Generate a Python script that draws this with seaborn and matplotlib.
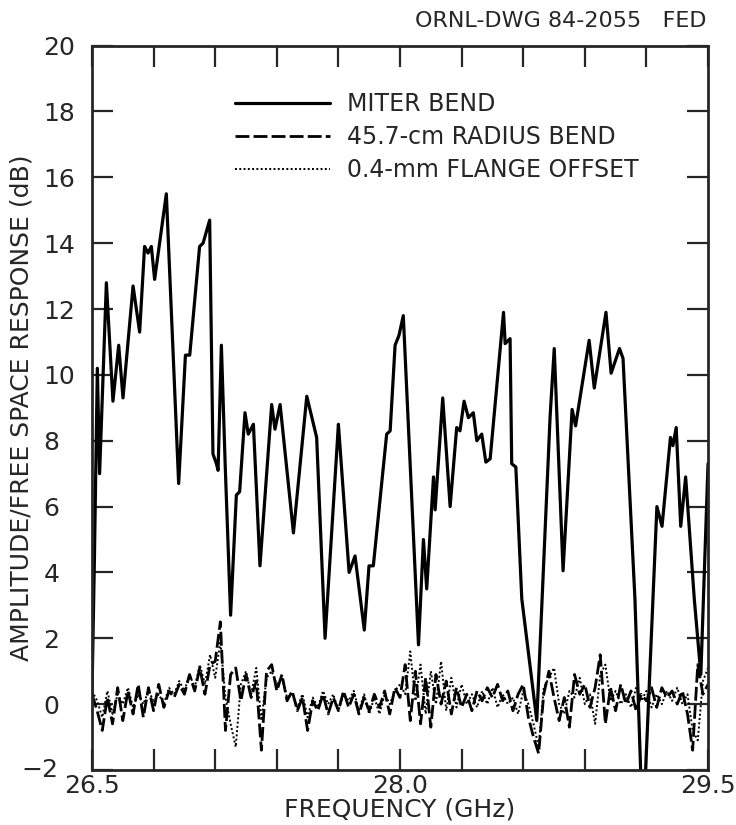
import numpy as np
import pandas as pd
import matplotlib
matplotlib.use('Agg')
import matplotlib.pyplot as plt
import seaborn as sns

# miter bend trace (GHz, dB)
miter_f = [26.500, 26.512, 26.526, 26.537, 26.570, 26.602, 26.630, 26.651, 26.700, 26.732,
           26.756, 26.773, 26.789, 26.805, 26.862, 26.922, 26.955, 26.976, 27.024, 27.041,
           27.073, 27.089, 27.106, 27.114, 27.130, 27.149, 27.175, 27.203, 27.219, 27.245,
           27.261, 27.286, 27.318, 27.375, 27.391, 27.416, 27.481, 27.546, 27.594, 27.635,
           27.700, 27.708, 27.752, 27.781, 27.826, 27.849, 27.870, 27.935, 27.952, 27.976,
           27.995, 28.016, 28.090, 28.114, 28.130, 28.163, 28.171, 28.208, 28.244, 28.276,
           28.292, 28.312, 28.333, 28.357, 28.374, 28.398, 28.418, 28.439, 28.504, 28.512,
           28.536, 28.544, 28.564, 28.593, 28.666, 28.731, 28.751, 28.794, 28.838, 28.855,
           28.921, 28.946, 29.003, 29.028, 29.069, 29.086, 29.144, 29.175, 29.192, 29.251,
           29.276, 29.317, 29.329, 29.345, 29.367, 29.391, 29.433, 29.465, 29.500]
miter_db = [0.3, 4.5, 10.2, 7.0, 12.8, 9.2, 10.9, 9.3, 12.7, 11.3,
            13.9, 13.7, 13.9, 12.9, 15.5, 6.7, 10.6, 10.6, 13.9, 14.0,
            14.7, 7.6, 7.3, 7.1, 10.9, 7.2, 2.7, 6.35, 6.45, 8.85,
            8.2, 8.5, 4.2, 9.1, 8.35, 9.1, 5.2, 9.35, 8.1, 2.0,
            8.5, 7.8, 4.0, 4.5, 2.25, 4.2, 4.2, 8.2, 8.3, 10.9,
            11.2, 11.8, 1.8, 5.0, 3.5, 6.9, 5.9, 9.3, 6.0, 8.4,
            8.3, 9.2, 8.7, 8.85, 8.0, 8.2, 7.35, 7.45, 11.9, 10.95,
            11.1, 7.3, 7.2, 3.2, -0.5, 8.75, 10.8, 4.05, 8.95, 8.45,
            11.05, 9.6, 11.9, 10.05, 10.8, 10.5, 3.2, -2.6, -2.6, 6.0,
            5.4, 8.1, 7.85, 8.4, 5.4, 6.9, 3.2, 0.9, 7.3]

# sweep used for the two low-level traces, 0.025 GHz steps
sweep_f = np.linspace(26.5, 29.5, 121)

radius_db = [0.3, -0.2, -0.8, 0.2, -0.6, 0.5, -0.5, 0.4, -0.3, 0.6,
             -0.4, 0.5, -0.2, 0.6, -0.1, 0.4, 0.2, 0.6, 0.3, 0.9,
             0.4, 1.1, 0.3, 1.2, 1.3, 2.5, -0.8, 0.9, 1.1, 0.1,
             0.9, 0.2, 0.7, -1.4, 1.0, 1.2, 0.4, 0.9, 0.1, 0.4,
             -0.2, 0.2, -0.8, 0.1, -0.2, 0.3, -0.3, 0.2, -0.2, 0.4,
             -0.1, 0.3, -0.3, 0.2, -0.2, 0.3, -0.1, 0.4, -0.3, 0.5,
             0.2, 1.2, -0.5, 1.0, -0.6, 0.8, -0.7, 0.9, 0.0, 0.7,
             -0.3, 0.5, -0.1, 0.3, -0.2, 0.4, 0.1, 0.5, 0.2, 0.6,
             0.1, 0.4, -0.2, 0.3, 0.6, -0.4, -1.0, -1.5, 0.3, 1.0,
             0.2, -0.5, 0.2, -0.7, 0.9, 0.3, 0.6, -0.1, 0.5, 1.5,
             -0.6, 0.5, -0.2, 0.6, 0.0, 0.4, -0.2, 0.3, 0.1, 0.5,
             -0.1, 0.5, 0.2, 0.4, 0.0, 0.4, -0.3, -1.4, 1.2, 0.3,
             0.6]

flange_db = [0.4, 0.1, -0.4, 0.4, -0.3, 0.3, 0.0, 0.5, -0.1, 0.3,
             0.0, 0.4, 0.1, 0.3, 0.0, 0.5, 0.3, 0.7, 0.4, 0.9,
             0.5, 1.2, 0.6, 1.5, 0.8, 1.9, 0.2, -0.6, -1.3, 0.6,
             1.0, 0.3, 1.1, -0.5, 0.8, 1.0, 0.6, 0.8, 0.2, 0.3,
             -0.1, 0.3, -0.4, 0.2, -0.1, 0.4, 0.0, 0.3, -0.2, 0.3,
             0.1, 0.4, -0.2, 0.3, -0.3, 0.2, -0.3, 0.3, 0.0, 0.4,
             0.6, 0.3, 1.6, 0.1, 1.2, -0.3, 1.0, 0.0, 1.3, -0.2,
             0.8, -0.1, 0.6, 0.0, 0.3, -0.1, 0.4, 0.0, 0.5, -0.1,
             0.3, 0.0, 0.2, -0.3, 0.4, 0.0, -0.6, -1.3, 0.5, 0.8,
             1.1, 0.0, -0.3, 0.4, 0.2, 0.8, 0.0, 0.3, -0.6, 0.9,
             1.2, 0.1, 0.4, 0.0, 0.3, -0.1, 0.5, 0.1, 0.4, -0.1,
             0.3, 0.0, 0.4, 0.1, 0.5, 0.0, 0.3, -0.8, -1.1, 0.7,
             1.1]

x_ticks = [26.5, 26.8, 27.1, 27.4, 27.7, 28.0, 28.3, 28.6, 28.9, 29.2, 29.5]
x_labels = ['26.5', '', '', '', '', '28.0', '', '', '', '', '29.5']
y_ticks = [-2, 0, 2, 4, 6, 8, 10, 12, 14, 16, 18, 20]
y_labels = ['', '0', '2', '4', '6', '8', '10', '12', '14', '16', '18', '20']

miter = pd.DataFrame({'f': miter_f, 'db': miter_db})
sweep = pd.DataFrame({'f': sweep_f, 'radius': radius_db, 'flange': flange_db})

sns.set_style('ticks')
plt.rcParams['font.family'] = ['DejaVu Sans']

fig = plt.figure(figsize=(7.36, 8.25), dpi=100)
ax = fig.add_axes([0.125, 0.0667, 0.837, 0.878])

sns.lineplot(data=miter, x='f', y='db', ax=ax, color='black', linewidth=2.3,
             label='MITER BEND', sort=False)
sns.lineplot(data=sweep, x='f', y='radius', ax=ax, color='black', linewidth=2.0,
             linestyle=(0, (5, 1.5)), label='45.7-cm RADIUS BEND')
sns.lineplot(data=sweep, x='f', y='flange', ax=ax, color='black', linewidth=1.4,
             linestyle=(0, (1, 1.2)), label='0.4-mm FLANGE OFFSET')

ax.set_xlim(26.5, 29.5)
ax.set_ylim(-2, 20)
ax.set_xticks(x_ticks)
ax.set_xticklabels(x_labels)
ax.set_yticks(y_ticks)
ax.set_yticklabels(y_labels)
ax.tick_params(axis='both', direction='in', length=15, width=1.6, labelsize=18,
               top=True, right=True)
# digits start at a common left edge, as in the hand-lettered original
ax.tick_params(axis='y', pad=35)
plt.setp(ax.get_yticklabels(), ha='left')
ax.tick_params(axis='x', pad=3)
for s in ax.spines.values():
    s.set_linewidth(2.0)
    s.set_visible(True)
# the -2 label hangs its minus sign to the left of the column
ax.text(-0.055, 0.0, '\u22122', transform=ax.transAxes, ha='right', va='center', fontsize=18)

ax.set_xlabel('FREQUENCY (GHz)', fontsize=18, va='center')
ax.set_ylabel('AMPLITUDE/FREE SPACE RESPONSE (dB)', fontsize=18, va='center')
ax.xaxis.set_label_coords(0.5, -0.054)
ax.yaxis.set_label_coords(-0.114, 0.5)

leg = ax.legend(loc='upper left', bbox_to_anchor=(0.2175, 0.949), frameon=False,
                fontsize=17, handlelength=4.0, handletextpad=0.72, labelspacing=0.38,
                borderaxespad=0)
for h in leg.get_lines():
    h.set_color('black')

fig.text(0.96, 0.975, 'ORNL-DWG 84-2055   FED', ha='right', va='center', fontsize=16)

fig.savefig('out.png', dpi=100)
